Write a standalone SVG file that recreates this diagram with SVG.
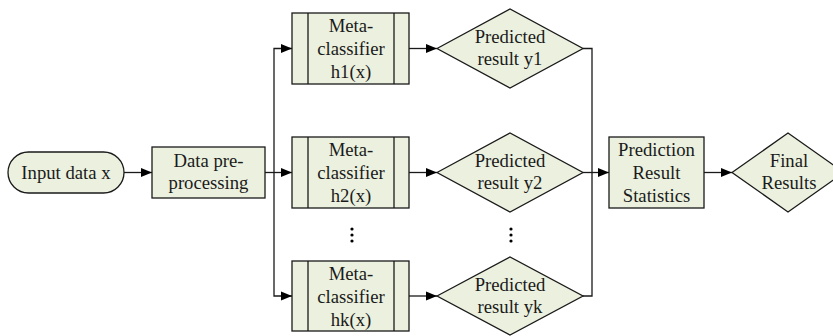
<svg xmlns="http://www.w3.org/2000/svg" width="833" height="336" viewBox="0 0 833 336">
<defs>
<marker id="ah" markerUnits="userSpaceOnUse" markerWidth="12" markerHeight="10" refX="11" refY="5" orient="auto">
<path d="M0,0.5 L11,5 L0,9.5 Z" fill="#000"/>
</marker>
<style>
.n{fill:#EBF1DE;stroke:#1a1a1a;stroke-width:1.3}
.l{fill:none;stroke:#1a1a1a;stroke-width:1.3}
.c{fill:none;stroke:#1a1a1a;stroke-width:1.3;marker-end:url(#ah)}
text{font-family:"Liberation Serif","Times New Roman",serif;font-size:18.7px;fill:#1a1a1a;text-anchor:middle}
.d{fill:#000}
</style>
</defs>
<g id="connectors">
<line class="c" x1="124" y1="172.5" x2="152" y2="172.5"/>
<polyline class="l" points="265,172.5 274,172.5"/>
<polyline class="c" points="274,172.5 292,172.5"/>
<polyline class="c" points="274,172.5 274,48.5 292,48.5"/>
<polyline class="c" points="274,172.5 274,296 292,296"/>
<line class="c" x1="409" y1="48.5" x2="437" y2="48.5"/>
<line class="c" x1="409" y1="172.5" x2="437" y2="172.5"/>
<line class="c" x1="409" y1="296" x2="437" y2="296"/>
<polyline class="l" points="583,48.5 592,48.5 592,296 583,296"/>
<line class="c" x1="583" y1="172.5" x2="609" y2="172.5"/>
<line class="c" x1="704" y1="172.5" x2="732" y2="172.5"/>
</g>
<g id="input">
<rect class="n" x="8" y="152" width="116" height="41" rx="20.5" ry="20.5"/>
<text x="66" y="179">Input data x</text>
</g>
<g id="preprocess">
<rect class="n" x="152" y="147" width="113" height="51"/>
<text x="208.5" y="167">Data pre-</text>
<text x="208.5" y="189">processing</text>
</g>
<g id="h1">
<rect class="n" x="292" y="13" width="117" height="71"/>
<line class="l" x1="308" y1="13" x2="308" y2="84"/>
<line class="l" x1="394" y1="13" x2="394" y2="84"/>
<text x="351" y="32">Meta-</text>
<text x="351" y="55">classifier</text>
<text x="351" y="78">h1(x)</text>
</g>
<g id="h2">
<rect class="n" x="292" y="137" width="117" height="71"/>
<line class="l" x1="308" y1="137" x2="308" y2="208"/>
<line class="l" x1="394" y1="137" x2="394" y2="208"/>
<text x="351" y="156">Meta-</text>
<text x="351" y="179">classifier</text>
<text x="351" y="202">h2(x)</text>
</g>
<g id="hk">
<rect class="n" x="292" y="261" width="117" height="70"/>
<line class="l" x1="308" y1="261" x2="308" y2="331"/>
<line class="l" x1="394" y1="261" x2="394" y2="331"/>
<text x="351" y="280">Meta-</text>
<text x="351" y="303">classifier</text>
<text x="351" y="326">hk(x)</text>
</g>
<g id="y1">
<polygon class="n" points="437,48.5 510,9 583,48.5 510,88"/>
<text x="510" y="43">Predicted</text>
<text x="510" y="65">result y1</text>
</g>
<g id="y2">
<polygon class="n" points="437,172.5 510,133 583,172.5 510,212"/>
<text x="510" y="167">Predicted</text>
<text x="510" y="189">result y2</text>
</g>
<g id="yk">
<polygon class="n" points="437,296 510,257 583,296 510,335"/>
<text x="510" y="291">Predicted</text>
<text x="510" y="313">result yk</text>
</g>
<g id="dots">
<circle class="d" cx="352" cy="229" r="1.6"/>
<circle class="d" cx="352" cy="235" r="1.6"/>
<circle class="d" cx="352" cy="241" r="1.6"/>
<circle class="d" cx="511" cy="229" r="1.6"/>
<circle class="d" cx="511" cy="235" r="1.6"/>
<circle class="d" cx="511" cy="241" r="1.6"/>
</g>
<g id="stats">
<rect class="n" x="609" y="137" width="95" height="71"/>
<text x="656.5" y="156">Prediction</text>
<text x="656.5" y="179">Result</text>
<text x="656.5" y="202">Statistics</text>
</g>
<g id="final">
<polygon class="n" points="732,172.5 788,133 844,172.5 788,212"/>
<text x="789" y="167">Final</text>
<text x="789" y="189">Results</text>
</g>
</svg>
